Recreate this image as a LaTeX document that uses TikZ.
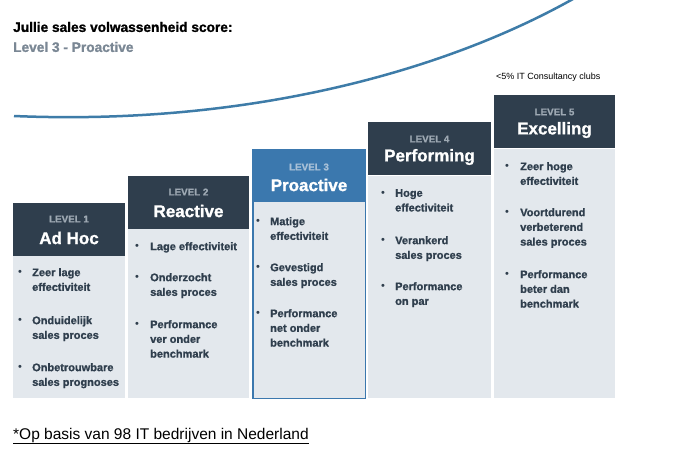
\documentclass[tikz,border=0pt]{standalone}
\usepackage{fontspec}
\setmainfont{Liberation Sans}
\newfontfamily\heavyfont[BoldFeatures={FakeBold=1.2}]{Liberation Sans}
\definecolor{hdrdark}{HTML}{2F3E4D}
\definecolor{hdrblue}{HTML}{3B78AE}
\definecolor{bodybg}{HTML}{E3E8ED}
\definecolor{lvlgrey}{HTML}{9EA9B3}
\definecolor{lvlblue}{HTML}{A9C1D8}
\definecolor{curveblue}{HTML}{3E7CA8}
\definecolor{subgrey}{HTML}{7A8794}
\definecolor{txtdark}{HTML}{2F3E4D}
\tikzset{
  hdr/.style={fill=hdrdark, draw=none, anchor=north west, minimum height=53pt, inner sep=0pt},
  bodybox/.style={fill=bodybg, draw=none, anchor=north west, inner sep=0pt},
  lvl/.style={font=\heavyfont\bfseries\fontsize{9.8}{10}\selectfont, text=lvlgrey, inner sep=0pt},
  lvlname/.style={font=\heavyfont\bfseries\fontsize{17}{19}\selectfont, text=white, inner sep=0pt},
  item/.style={font=\heavyfont\bfseries\fontsize{11}{14.7}\selectfont, text=txtdark, align=left, anchor=north west, inner sep=0pt},
  bul/.style={font=\fontsize{11}{12}\selectfont, text=txtdark, inner sep=0pt},
}
\begin{document}
\begin{tikzpicture}[x=1pt,y=-1pt]
\path[use as bounding box, fill=white] (0,0) rectangle (700,450);

% curve
\begin{scope}
\clip (0,0) rectangle (700,450);
\draw[curveblue, line width=2.5pt] (14,116) .. controls (250,126) and (450,70) .. (580,-5);
\end{scope}

% titles
\node[anchor=west, inner sep=0pt, font=\heavyfont\bfseries\fontsize{13.7}{15}\selectfont] (title) at (13,27) {Jullie sales volwassenheid score:};
\node[anchor=west, inner sep=0pt, font=\heavyfont\bfseries\fontsize{13.7}{15}\selectfont, text=subgrey] (sub) at (13,47) {Level 3 - Proactive};
\node[anchor=west, inner sep=0pt, font=\fontsize{9}{10}\selectfont, text=black] (note) at (496,77) {<5\% IT Consultancy clubs};

% column 1
\node[bodybox, minimum width=112pt, minimum height=142pt] (b1) at (13,256) {};
\node[hdr, minimum width=112pt] (h1) at (13,203) {};
\node[lvl] (l1) at (69,219) {LEVEL 1};
\node[lvlname] (n1) at (69,238) {Ad Hoc};
\node[bul] (d11) at (20,273) {•};
\node[item] (t11) at (32,268) {Zeer lage\\effectiviteit};
\node[bul] (d12) at (20,321) {•};
\node[item] (t12) at (32,316) {Onduidelijk\\sales proces};
\node[bul] (d13) at (20,368) {•};
\node[item] (t13) at (32,363) {Onbetrouwbare\\sales prognoses};

% column 2
\node[bodybox, minimum width=121pt, minimum height=169pt] (b2) at (128,229) {};
\node[hdr, minimum width=121pt] (h2) at (128,176) {};
\node[lvl] (l2) at (188.5,192) {LEVEL 2};
\node[lvlname] (n2) at (188.5,211) {Reactive};
\node[bul] (d21) at (137,247) {•};
\node[item] (t21) at (150,242) {Lage effectiviteit};
\node[bul] (d22) at (137,278) {•};
\node[item] (t22) at (150,273) {Onderzocht\\sales proces};
\node[bul] (d23) at (137,325) {•};
\node[item] (t23) at (150,320) {Performance\\ver onder\\benchmark};

% column 3 (highlighted)
\node[bodybox, minimum width=112pt, minimum height=196pt] (b3) at (253,202) {};
\node[hdr, fill=hdrblue, minimum width=112pt] (h3) at (253,149) {};
\draw[hdrblue, line width=1.6pt] (h3.north west) -- (b3.south west) -- (b3.south east) -- (h3.north east);
\node[lvl, text=lvlblue] (l3) at (309,167) {LEVEL 3};
\node[lvlname] (n3) at (309,185) {Proactive};
\node[bul] (d31) at (258,222) {•};
\node[item] (t31) at (270,217) {Matige\\effectiviteit};
\node[bul] (d32) at (258,268) {•};
\node[item] (t32) at (270,263) {Gevestigd\\sales proces};
\node[bul] (d33) at (258,314) {•};
\node[item] (t33) at (270,309) {Performance\\net onder\\benchmark};

% column 4
\node[bodybox, minimum width=123pt, minimum height=222pt] (b4) at (368,176) {};
\node[hdr, minimum width=123pt] (h4) at (368,122) {};
\node[lvl] (l4) at (429.5,139) {LEVEL 4};
\node[lvlname] (n4) at (429.5,157) {Performing};
\node[bul] (d41) at (383,194) {•};
\node[item] (t41) at (395,189) {Hoge\\effectiviteit};
\node[bul] (d42) at (383,241) {•};
\node[item] (t42) at (395,236) {Verankerd\\sales proces};
\node[bul] (d43) at (383,287) {•};
\node[item] (t43) at (395,282) {Performance\\on par};

% column 5
\node[bodybox, minimum width=121pt, minimum height=249pt] (b5) at (494,149) {};
\node[hdr, minimum width=121pt] (h5) at (494,95) {};
\node[lvl] (l5) at (554.5,112) {LEVEL 5};
\node[lvlname] (n5) at (554.5,130) {Excelling};
\node[bul] (d51) at (507,167) {•};
\node[item] (t51) at (520,162) {Zeer hoge\\effectiviteit};
\node[bul] (d52) at (507,213) {•};
\node[item] (t52) at (520,208) {Voortdurend\\verbeterend\\sales proces};
\node[bul] (d53) at (507,275) {•};
\node[item] (t53) at (520,270) {Performance\\beter dan\\benchmark};

% footer
\node[anchor=west, inner sep=0pt, font=\fontsize{15.5}{17}\selectfont, text=black] (foot) at (13,436) {\underline{*Op basis van 98 IT bedrijven in Nederland}};
\end{tikzpicture}
\end{document}
